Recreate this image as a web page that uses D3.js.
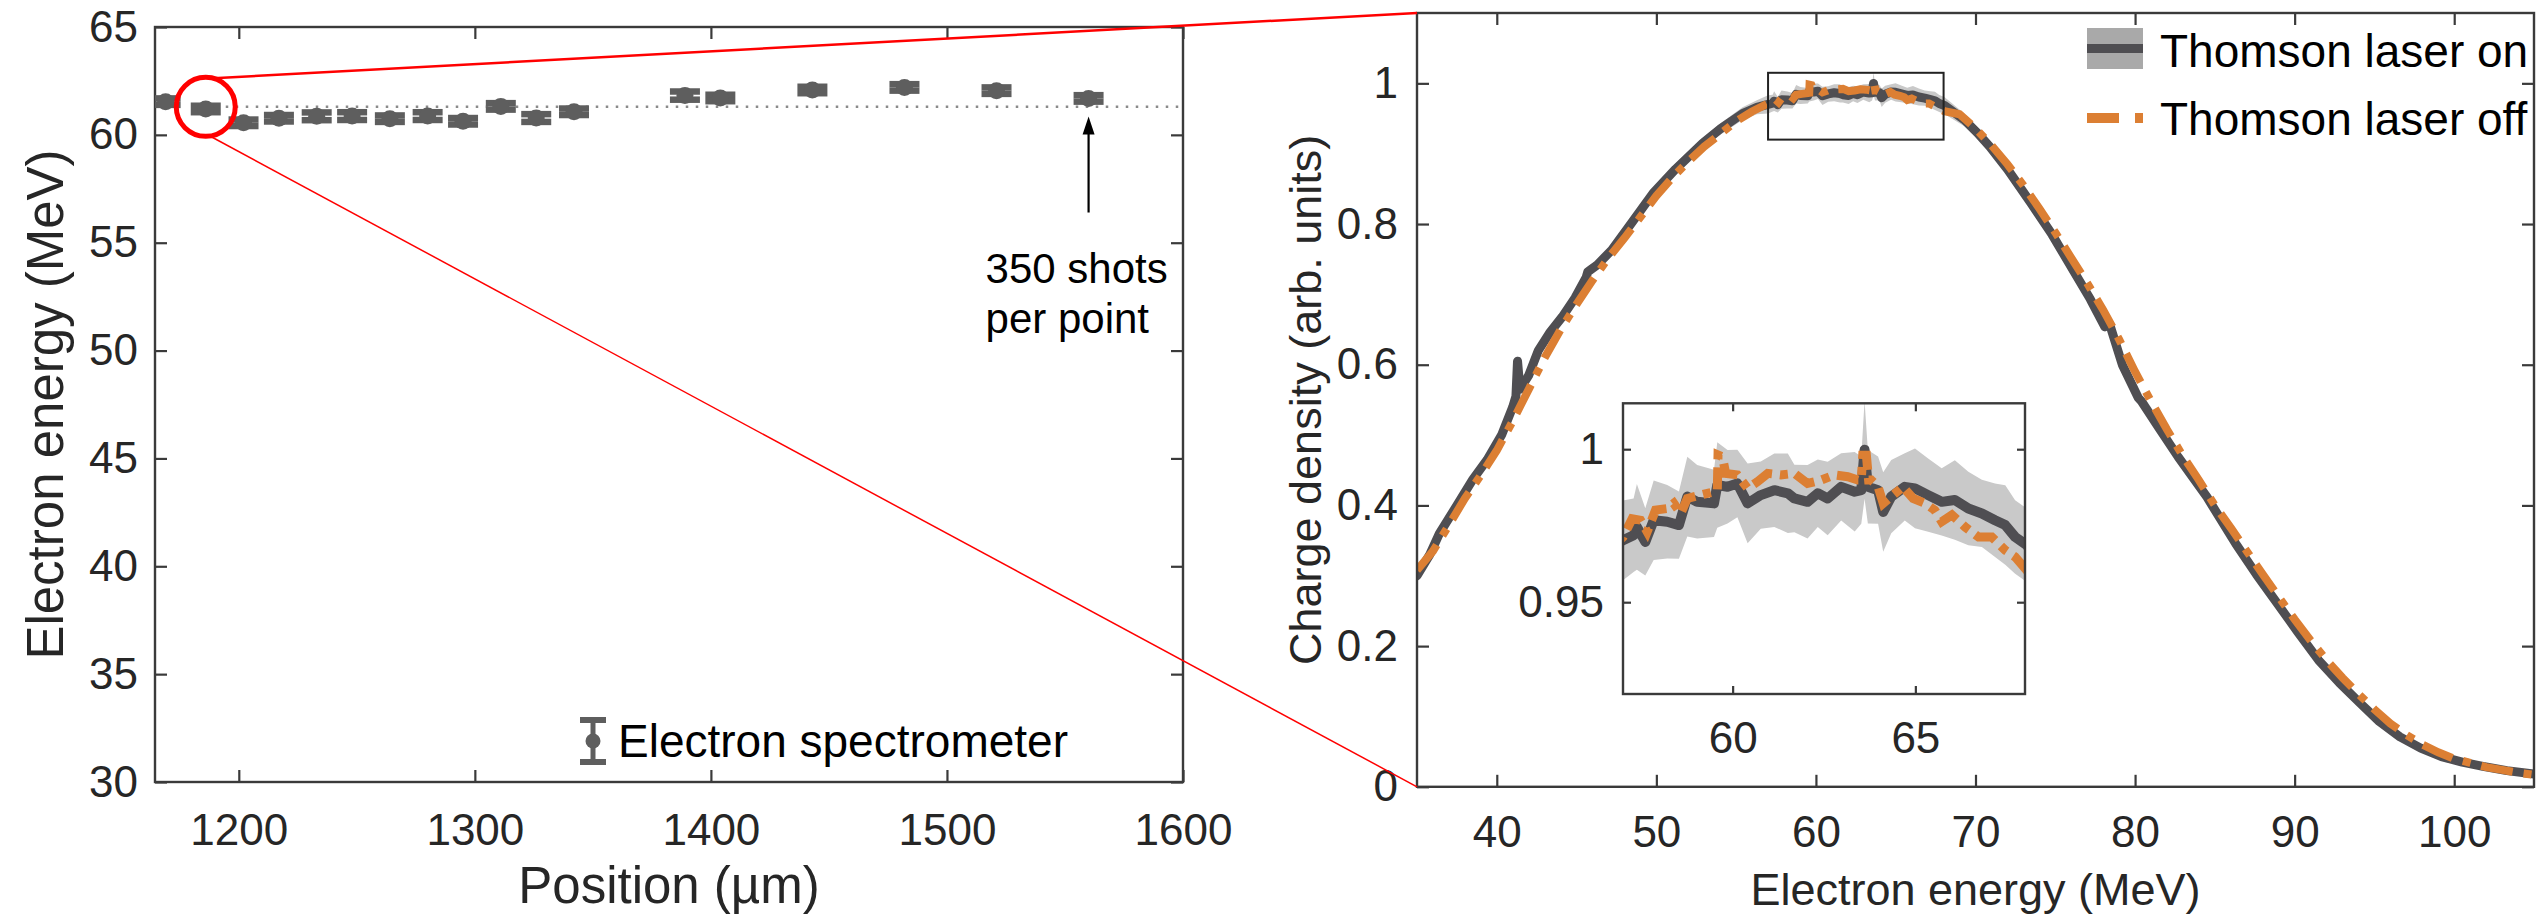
<!DOCTYPE html>
<html>
<head>
<meta charset="utf-8">
<script src="https://cdn.jsdelivr.net/npm/d3@7"></script>
<style>
  body { margin: 0; background: #fff; }
  svg { display: block; }
</style>
</head>
<body>
<script>
// Canvas
let w = 2539, h = 919;
let font = "'Liberation Sans', Arial, Helvetica, sans-serif";

// ---- Left panel: electron energy vs position ----
let positions = [1169, 1186, 1202, 1217, 1233, 1248, 1264, 1280, 1295, 1311, 1326, 1342, 1389, 1404, 1443, 1482, 1521, 1560];
let energies  = [61.54, 61.2, 60.56, 60.77, 60.86, 60.87, 60.75, 60.87, 60.63, 61.32, 60.78, 61.07, 61.82, 61.71, 62.08, 62.2, 62.05, 61.69];
let energyErr = [0.15, 0.15, 0.15, 0.15, 0.18, 0.18, 0.15, 0.18, 0.15, 0.15, 0.18, 0.15, 0.19, 0.15, 0.15, 0.15, 0.15, 0.15];
let meanEnergy = 61.3;
let posTicks = [1200, 1300, 1400, 1500, 1600];
let energyTicks = [30, 35, 40, 45, 50, 55, 60, 65];
let zoomPoint = {x: 1186, y: 61.3};
let arrowNote = {x: 1560, from: 56.4, to: 60.85};

// ---- Right panel: spectra ----
// Thomson laser on: energy (MeV), charge density, shaded spread
let onE = [35.0, 35.8, 36.4, 37.5, 38.5, 39.4, 40.3, 41.0, 41.2, 41.3, 41.45, 42.0, 42.6, 43.3, 44.1, 44.9, 45.6, 45.7, 46.3, 47.2, 48.4, 49.8, 51.2, 52.9, 54.0, 55.4, 56.3,
  57.0, 57.29, 57.38, 57.61, 57.84, 58.21, 58.53, 58.76, 59.03, 59.49, 59.58, 59.86, 60.13, 60.41, 60.77, 61.14, 61.51, 61.69, 62.05, 62.33,
  62.6, 62.97, 63.34, 63.52, 63.61, 63.7, 63.98, 64.12, 64.34, 64.71, 64.99, 65.35, 65.72, 66.08, 66.45, 66.82, 67.18, 67.46, 67.73, 68.05,
  69.3, 70.1, 70.9, 72.0, 73.5, 74.8, 76.0, 77.2, 78.1, 78.4, 79.2, 80.2, 80.4, 81.5, 82.7, 84.5, 86.3, 87.6, 88.9, 90.2,
  91.5, 92.8, 94.1, 95.3, 96.6, 97.9, 99.2, 100.5, 101.8, 103.3, 105.0];
let onC = [0.300, 0.330, 0.360, 0.400, 0.437, 0.465, 0.500, 0.540, 0.555, 0.605, 0.565, 0.585, 0.620, 0.645, 0.668, 0.695, 0.724, 0.732, 0.742, 0.763, 0.800, 0.844, 0.878, 0.915, 0.935, 0.957, 0.966,
  0.9702, 0.9719, 0.9746, 0.9697, 0.9768, 0.9763, 0.9752, 0.9845, 0.9828, 0.9823, 0.9883, 0.9877, 0.9888, 0.9823, 0.9850, 0.9866, 0.9856, 0.9839, 0.9828, 0.9856,
  0.9839, 0.9877, 0.9861, 0.9866, 0.9998, 0.9877, 0.9866, 0.9795, 0.9845, 0.9877, 0.9872, 0.9850, 0.9828, 0.9834, 0.9806, 0.9790, 0.9768, 0.9752, 0.9713, 0.9686,
  0.948, 0.930, 0.910, 0.878, 0.829, 0.785, 0.739, 0.693, 0.654, 0.658, 0.600, 0.553, 0.548, 0.510, 0.469, 0.412, 0.346, 0.302, 0.261, 0.220,
  0.180, 0.148, 0.119, 0.093, 0.071, 0.055, 0.043, 0.035, 0.029, 0.023, 0.018];
let onSpread = [0.006, 0.007, 0.006, 0.007, 0.006, 0.007, 0.006, 0.007, 0.006, 0.009, 0.007, 0.006, 0.007, 0.006, 0.007, 0.006, 0.007, 0.008, 0.006, 0.007, 0.006, 0.007, 0.008, 0.007, 0.008, 0.009, 0.010,
  0.013, 0.012, 0.014, 0.011, 0.013, 0.012, 0.011, 0.013, 0.012, 0.011, 0.014, 0.012, 0.011, 0.013, 0.011, 0.012, 0.013, 0.011, 0.012, 0.011,
  0.012, 0.011, 0.013, 0.011, 0.016, 0.012, 0.011, 0.013, 0.012, 0.011, 0.013, 0.012, 0.011, 0.013, 0.012, 0.011, 0.012, 0.013, 0.012, 0.012,
  0.009, 0.008, 0.008, 0.007, 0.007, 0.006, 0.007, 0.006, 0.007, 0.006, 0.006, 0.007, 0.006, 0.006, 0.005, 0.006, 0.005, 0.005, 0.005, 0.004,
  0.004, 0.004, 0.003, 0.003, 0.003, 0.003, 0.002, 0.002, 0.002, 0.002, 0.002];

// Thomson laser off
let offE = [35, 36, 37, 38, 39, 40, 41, 42, 43, 44, 45, 46, 47, 48, 49, 50, 51, 52, 53, 54, 55, 56,
  57.0, 57.25, 57.48, 57.66, 57.89, 58.21, 58.39, 58.58, 58.76, 59.12, 59.49, 59.58, 59.6, 59.72, 59.81, 60.13, 60.41, 60.68, 60.96, 61.32, 61.69,
  62.05, 62.42, 62.79, 63.15, 63.43, 63.52, 63.56, 63.66, 63.72, 63.79, 63.98, 64.12, 64.34, 64.66, 64.94, 65.26, 65.53, 65.72, 66.0, 66.36, 66.73,
  67.09, 67.46, 67.73, 68.05,
  69, 70, 71, 72, 73, 74, 75, 76, 77, 78, 79, 80, 81, 82, 83, 84, 85, 86, 87, 88, 89, 90, 91, 92, 93, 94, 95, 96, 97, 98, 99, 100, 101, 102, 103, 104, 105];
let offC = [0.308, 0.335, 0.372, 0.410, 0.443, 0.478, 0.520, 0.565, 0.610, 0.650, 0.686, 0.720, 0.752, 0.780, 0.810, 0.840, 0.866, 0.889, 0.910, 0.928, 0.946, 0.960,
  0.9713, 0.9773, 0.9768, 0.9730, 0.9801, 0.9806, 0.9823, 0.9790, 0.9839, 0.9850, 0.9861, 0.9865, 0.9981, 0.9975, 0.9921, 0.9916, 0.9872, 0.9894, 0.9921, 0.9916, 0.9921,
  0.9888, 0.9899, 0.9916, 0.9910, 0.9899, 0.9899, 0.9980, 0.9980, 0.9899, 0.9899, 0.9877, 0.9823, 0.9845, 0.9877, 0.9839, 0.9823, 0.9801, 0.9763, 0.9785, 0.9746, 0.9713,
  0.9713, 0.9670, 0.9648, 0.9604,
  0.956, 0.936, 0.912, 0.885, 0.855, 0.822, 0.788, 0.752, 0.716, 0.678, 0.636, 0.590, 0.548, 0.508, 0.470, 0.436, 0.400, 0.368, 0.335, 0.302,
  0.270, 0.238, 0.208, 0.180, 0.155, 0.132, 0.110, 0.090, 0.074, 0.060, 0.049, 0.040, 0.034, 0.028, 0.024, 0.020, 0.017];

let specXTicks = [40, 50, 60, 70, 80, 90, 100];
let specYTicks = [0, 0.2, 0.4, 0.6, 0.8, 1];
let insetXTicks = [60, 65];
let insetYTicks = [0.95, 1];
let seriesNames = ["Thomson laser on", "Thomson laser off"];

let onData = onE.map((e, i) => ({e: e, c: onC[i], s: onSpread[i]}));
let offData = offE.map((e, i) => ({e: e, c: offC[i]}));

// Colours
let darkGrey = "#4f4e52", bandGrey = "#c9c9c9", orange = "#dc7f33", markGrey = "#5e5e5e", axisCol = "#3a3a3a";

// Scales
let xL = d3.scaleLinear().domain([1164.5, 1600]).range([155, 1183]);
let yL = d3.scaleLinear().domain([30, 65]).range([782, 27]);
let xR = d3.scaleLinear().domain([35, 105]).range([1417, 2534]);
let yR = d3.scaleLinear().domain([0, 1.1]).range([786.8, 13]);
let xI = d3.scaleLinear().domain([57, 68]).range([1623, 2025]);
let yI = d3.scaleLinear().domain([0.92, 1.015]).range([694, 403.3]);

let svg = d3.select("body").append("svg")
  .attr("width", w)
  .attr("height", h)
  .attr("font-family", font);

svg.append("rect").attr("width", w).attr("height", h).attr("fill", "#fff");

let defs = svg.append("defs");
function clip(id, x, y) {
  defs.append("clipPath").attr("id", id)
    .append("rect")
    .attr("x", x.range()[0]).attr("y", y.range()[1])
    .attr("width", x.range()[1] - x.range()[0])
    .attr("height", y.range()[0] - y.range()[1]);
}
clip("clipL", xL, yL);
clip("clipR", xR, yR);
clip("clipI", xI, yI);

// Boxed axes with inward ticks on all four sides
function drawAxes(x, y, o) {
  let x0 = x.range()[0], x1 = x.range()[1], yb = y.range()[0], yt = y.range()[1];
  let style = g => {
    g.attr("font-family", font).attr("font-size", o.fs).attr("color", axisCol);
    g.select(".domain").remove();
    g.selectAll(".tick line").attr("stroke-width", 2.2);
    g.selectAll(".tick text").attr("fill", "#262626");
  };
  svg.append("g").attr("transform", "translate(0," + yb + ")")
    .call(d3.axisBottom(x).tickValues(o.xt).tickSize(-o.tk).tickPadding(o.px).tickFormat(o.fx))
    .call(style);
  svg.append("g").attr("transform", "translate(0," + yt + ")")
    .call(d3.axisTop(x).tickValues(o.xt).tickSize(-o.tk).tickFormat(""))
    .call(style);
  svg.append("g").attr("transform", "translate(" + x0 + ",0)")
    .call(d3.axisLeft(y).tickValues(o.yt).tickSize(-o.tk).tickPadding(o.py).tickFormat(o.fy))
    .call(style);
  svg.append("g").attr("transform", "translate(" + x1 + ",0)")
    .call(d3.axisRight(y).tickValues(o.yt).tickSize(-o.tk).tickFormat(""))
    .call(style);
  svg.append("rect")
    .attr("x", x0).attr("y", yt)
    .attr("width", x1 - x0).attr("height", yb - yt)
    .attr("fill", "none").attr("stroke", axisCol).attr("stroke-width", 2.4);
}

let fmt = d3.format("~g");

// ================= Left panel =================
drawAxes(xL, yL, {xt: posTicks, yt: energyTicks, tk: 12, px: 32, py: 17, fs: 44, fx: fmt, fy: fmt});

// mean energy dotted line
svg.append("line")
  .attr("x1", xL(zoomPoint.x)).attr("x2", xL.range()[1])
  .attr("y1", yL(meanEnergy)).attr("y2", yL(meanEnergy))
  .attr("stroke", "#8a8a8a").attr("stroke-width", 2.5)
  .attr("stroke-dasharray", "2.5,7.5");

// error bars
let pts = svg.append("g").attr("clip-path", "url(#clipL)")
  .selectAll("g").data(positions).join("g");
pts.append("line")
  .attr("x1", d => xL(d)).attr("x2", d => xL(d))
  .attr("y1", (d, i) => yL(energies[i] + energyErr[i]))
  .attr("y2", (d, i) => yL(energies[i] - energyErr[i]))
  .attr("stroke", markGrey).attr("stroke-width", 5);
[1, -1].forEach(sg => {
  pts.append("line")
    .attr("x1", d => xL(d) - 15).attr("x2", d => xL(d) + 15)
    .attr("y1", (d, i) => yL(energies[i] + sg * energyErr[i]))
    .attr("y2", (d, i) => yL(energies[i] + sg * energyErr[i]))
    .attr("stroke", markGrey).attr("stroke-width", 6.5);
});
pts.append("circle")
  .attr("cx", d => xL(d))
  .attr("cy", (d, i) => yL(energies[i]))
  .attr("r", 8.5)
  .attr("fill", markGrey);

// arrow annotation
let ax = xL(arrowNote.x);
svg.append("line")
  .attr("x1", ax).attr("x2", ax)
  .attr("y1", yL(arrowNote.from)).attr("y2", yL(arrowNote.to) + 16)
  .attr("stroke", "#000").attr("stroke-width", 2.2);
svg.append("path")
  .attr("d", "M" + ax + "," + yL(arrowNote.to) + " l-6,18 l12,0 z")
  .attr("fill", "#000");
svg.append("text").attr("x", ax - 103).attr("y", 283)
  .attr("font-size", 42).attr("fill", "#000").text("350 shots");
svg.append("text").attr("x", ax - 103).attr("y", 333)
  .attr("font-size", 42).attr("fill", "#000").text("per point");

// left legend
let lg = svg.append("g").attr("transform", "translate(593,741)");
lg.append("line").attr("y1", -22).attr("y2", 22).attr("stroke", markGrey).attr("stroke-width", 5);
lg.append("line").attr("x1", -13).attr("x2", 13).attr("y1", -21).attr("y2", -21).attr("stroke", markGrey).attr("stroke-width", 6);
lg.append("line").attr("x1", -13).attr("x2", 13).attr("y1", 21).attr("y2", 21).attr("stroke", markGrey).attr("stroke-width", 6);
lg.append("circle").attr("r", 7.5).attr("fill", markGrey);
svg.append("text").attr("x", 618).attr("y", 757)
  .attr("font-size", 46).attr("fill", "#000").text("Electron spectrometer");

// axis labels
svg.append("text")
  .attr("x", (xL.range()[0] + xL.range()[1]) / 2).attr("y", 903)
  .attr("text-anchor", "middle").attr("font-size", 51).attr("fill", "#262626")
  .text("Position (\u00b5m)");
svg.append("text")
  .attr("transform", "translate(45," + (yL.range()[0] + yL.range()[1]) / 2 + ") rotate(-90)")
  .attr("text-anchor", "middle").attr("dominant-baseline", "central")
  .attr("font-size", 51).attr("fill", "#262626")
  .text("Electron energy (MeV)");

// ================= Right panel =================
function drawSpectra(g, x, y, lwOn, lwOff, dash) {
  let band = d3.area()
    .x(d => x(d.e))
    .y0(d => y(d.c - d.s))
    .y1(d => y(d.c + d.s));
  let line = d3.line().x(d => x(d.e)).y(d => y(d.c));
  g.append("path").datum(onData)
    .attr("d", band).attr("fill", bandGrey);
  g.append("path").datum(onData)
    .attr("d", line).attr("fill", "none")
    .attr("stroke", darkGrey).attr("stroke-width", lwOn)
    .attr("stroke-linejoin", "round").attr("stroke-linecap", "round");
  g.append("path").datum(offData)
    .attr("d", line).attr("fill", "none")
    .attr("stroke", orange).attr("stroke-width", lwOff)
    .attr("stroke-dasharray", dash);
}

drawSpectra(svg.append("g").attr("clip-path", "url(#clipR)"), xR, yR, 9, 8, "32,11,8,11");
drawAxes(xR, yR, {xt: specXTicks, yt: specYTicks, tk: 12, px: 29, py: 19, fs: 44, fx: fmt, fy: fmt});

// zoom window on the main spectrum
svg.append("rect")
  .attr("x", xR(xI.domain()[0])).attr("y", yR(yI.domain()[1]))
  .attr("width", xR(xI.domain()[1]) - xR(xI.domain()[0]))
  .attr("height", yR(yI.domain()[0]) - yR(yI.domain()[1]))
  .attr("fill", "none").attr("stroke", "#222").attr("stroke-width", 2);

// inset
svg.append("rect")
  .attr("x", xI.range()[0]).attr("y", yI.range()[1])
  .attr("width", xI.range()[1] - xI.range()[0])
  .attr("height", yI.range()[0] - yI.range()[1])
  .attr("fill", "#fff");
drawSpectra(svg.append("g").attr("clip-path", "url(#clipI)"), xI, yI, 10, 9, "22,8,8,8");
drawAxes(xI, yI, {xt: insetXTicks, yt: insetYTicks, tk: 8, px: 28, py: 19, fs: 44, fx: fmt, fy: fmt});

// legend
let rl = svg.append("g");
rl.append("rect").attr("x", 2087).attr("y", 28).attr("width", 56).attr("height", 41).attr("fill", "#a9a9a9");
rl.append("rect").attr("x", 2087).attr("y", 44).attr("width", 56).attr("height", 9).attr("fill", darkGrey);
rl.append("line").attr("x1", 2087).attr("x2", 2143).attr("y1", 118).attr("y2", 118)
  .attr("stroke", orange).attr("stroke-width", 10).attr("stroke-dasharray", "32,16,8,100");
rl.selectAll("text").data(seriesNames).join("text")
  .attr("x", 2160).attr("y", (d, i) => 67 + i * 68)
  .attr("font-size", 46).attr("fill", "#000")
  .text(d => d);

// axis labels
svg.append("text")
  .attr("x", (xR.range()[0] + xR.range()[1]) / 2).attr("y", 905)
  .attr("text-anchor", "middle").attr("font-size", 45).attr("fill", "#262626")
  .text("Electron energy (MeV)");
svg.append("text")
  .attr("transform", "translate(1305," + (yR.range()[0] + yR.range()[1]) / 2 + ") rotate(-90)")
  .attr("text-anchor", "middle").attr("dominant-baseline", "central")
  .attr("font-size", 45).attr("fill", "#262626")
  .text("Charge density (arb. units)");

// ================= Zoom connector =================
let cx = xL(zoomPoint.x), cy = yL(zoomPoint.y), r = 29.5;
svg.append("circle")
  .attr("cx", cx).attr("cy", cy).attr("r", r)
  .attr("fill", "none").attr("stroke", "#ff0000").attr("stroke-width", 5);
let aTop = -75 * Math.PI / 180, aBot = 82 * Math.PI / 180;
svg.append("line")
  .attr("x1", cx + r * Math.cos(aTop)).attr("y1", cy + r * Math.sin(aTop))
  .attr("x2", xR.range()[0]).attr("y2", yR.range()[1])
  .attr("stroke", "#ff0000").attr("stroke-width", 2.5);
svg.append("line")
  .attr("x1", cx + r * Math.cos(aBot)).attr("y1", cy + r * Math.sin(aBot))
  .attr("x2", xR.range()[0]).attr("y2", yR.range()[0])
  .attr("stroke", "#ff0000").attr("stroke-width", 1.5);
</script>
</body>
</html>
